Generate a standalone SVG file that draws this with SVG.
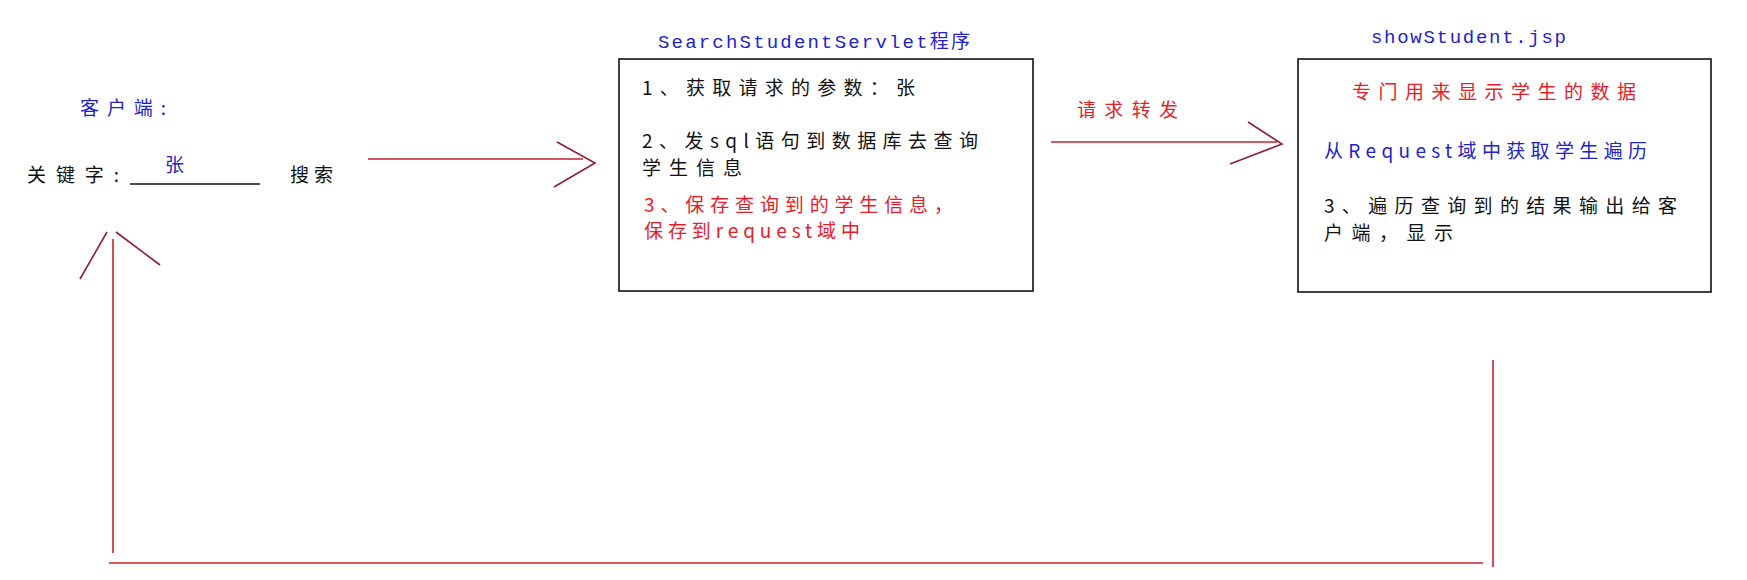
<svg xmlns="http://www.w3.org/2000/svg" width="1747" height="580" viewBox="0 0 1747 580">
<style>
text{font-family:"Noto Sans CJK SC","Liberation Sans",sans-serif;font-size:19px;}
.blk{fill:#111111;}
.blu{fill:#2323c8;}
.red{fill:#e5202a;}
.mono{font-family:"Liberation Mono","Noto Sans CJK SC",monospace;}
.box{fill:#ffffff;stroke:#111111;stroke-width:1.6;}
.ln{fill:none;stroke:#c8202e;stroke-width:1.6;}
.hd{fill:none;stroke:#8c1f36;stroke-width:1.6;}
</style>
<rect width="1747" height="580" fill="#ffffff"/>
<g id="client">
<text class="blu" x="80" y="115" textLength="86" lengthAdjust="spacing">客户端:</text>
<text class="blk" x="27" y="182" textLength="92" lengthAdjust="spacing">关键字:</text>
<line x1="130" y1="184" x2="260" y2="184" stroke="#111111" stroke-width="1.6"/>
<text class="blu" x="165" y="172" textLength="20" lengthAdjust="spacing">张</text>
<text class="blk" x="290" y="182" textLength="43" lengthAdjust="spacing">搜索</text>
</g>
<g id="servlet">
<text class="blu mono" x="658" y="48" textLength="312" lengthAdjust="spacing">SearchStudentServlet程序</text>
<rect class="box" x="619" y="59" width="414" height="232"/>
<text class="blk" x="642" y="95" textLength="273" lengthAdjust="spacing">1、获取请求的参数：张</text>
<text class="blk" x="642" y="148" textLength="336" lengthAdjust="spacing">2、发sql语句到数据库去查询</text>
<text class="blk" x="642" y="175" textLength="100" lengthAdjust="spacing">学生信息</text>
<text class="red" x="644" y="212" textLength="309" lengthAdjust="spacing">3、保存查询到的学生信息，</text>
<text class="red" x="644" y="238" textLength="216" lengthAdjust="spacing">保存到request域中</text>
</g>
<g id="jsp">
<text class="blu mono" x="1371" y="43" textLength="195" lengthAdjust="spacing">showStudent.jsp</text>
<rect class="box" x="1298" y="59" width="413" height="233"/>
<text class="red" x="1352" y="99" textLength="284" lengthAdjust="spacing">专门用来显示学生的数据</text>
<text class="blu" x="1324" y="158" textLength="323" lengthAdjust="spacing">从Request域中获取学生遍历</text>
<text class="blk" x="1324" y="213" textLength="353" lengthAdjust="spacing">3、遍历查询到的结果输出给客</text>
<text class="blk" x="1324" y="240" textLength="129" lengthAdjust="spacing">户端，显示</text>
</g>
<g id="forward-label">
<text class="red" x="1077" y="117" textLength="101" lengthAdjust="spacing">请求转发</text>
</g>
<g id="connectors">
<line class="ln" x1="368" y1="159" x2="583" y2="159"/>
<polyline class="hd" points="557,142 595,163 554,187"/>
<line class="ln" x1="1051" y1="142" x2="1277" y2="142"/>
<polyline class="hd" points="1248,122 1282,144 1230,164"/>
<line class="ln" x1="1493" y1="360" x2="1493" y2="567"/>
<line class="ln" x1="1483" y1="563" x2="109" y2="563"/>
<line class="ln" x1="113" y1="553" x2="113" y2="239"/>
<line class="hd" x1="80" y1="279" x2="107" y2="232"/>
<line class="hd" x1="116" y1="232" x2="160" y2="265"/>
</g>
</svg>
